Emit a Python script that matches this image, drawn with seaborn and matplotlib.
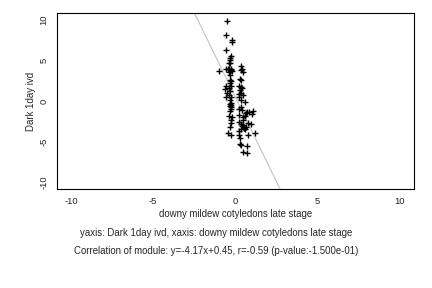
import matplotlib
matplotlib.use("Agg")
import matplotlib.pyplot as plt
import pandas as pd
import seaborn as sns

# points (x: downy mildew cotyledons late stage, y: Dark 1day ivd)
x_vals = [-0.52, -0.58, -0.20, -0.23, -0.56, -0.29, -0.31, -0.35, -0.39, -0.33,
          -0.98, -0.58, -0.45, -0.40, -0.30, -0.25, -0.20, -0.38, -0.35, -0.33,
          -0.29, -0.33, -0.30, -0.58, -0.64, -0.42, -0.33, -0.54, -0.42, -0.58,
          -0.30, -0.36, -0.28, -0.36, -0.30, -0.28, -0.36, -0.28, -0.40, -0.28,
          -0.28, -0.36, -0.46, -0.28, -0.33, -0.22,
          0.35, 0.41, 0.31, 0.44, 0.27, 0.31, 0.23, 0.35, 0.39, 0.27,
          0.31, 0.19, 0.47, 0.23, 0.31, 0.56, 0.31, 0.23, 0.39, 0.72,
          0.64, 0.84, 1.08, 0.98, 0.23, 0.43, 0.19, 0.31, 0.78, 0.92,
          0.47, 0.64, 0.35, 0.58, 0.19, 0.23, 0.27, 0.78, 1.17, 0.27,
          0.35, 0.68, 0.48, 0.72, 0.40, 0.50, 0.55, 0.45, 0.60]
y_vals = [9.9, 8.1, 7.5, 7.3, 6.3, 5.5, 5.3, 5.0, 4.65, 4.7,
          3.7, 3.95, 4.0, 3.9, 3.8, 3.95, 3.7, 3.6, 3.2, 2.6,
          2.4, 2.2, 1.9, 1.85, 1.45, 1.6, 1.2, 0.95, 0.75, 0.45,
          0.5, 0.1, -0.2, -0.4, -0.5, -0.7, -1.3, -1.0, -1.9, -2.3,
          -2.75, -3.2, -3.9, -4.15, -0.6, -2.0,
          4.3, 4.0, 3.8, 3.6, 2.75, 2.6, 1.85, 1.7, 1.55, 1.35,
          0.95, 0.8, 0.75, 0.5, 0.1, -0.1, -0.7, -1.0, -1.1, -1.4,
          -1.5, -1.4, -1.2, -1.65, -1.7, -2.0, -2.6, -2.8, -2.7, -2.8,
          -3.0, -3.2, -3.4, -3.45, -3.7, -4.2, -4.6, -4.2, -3.9, -5.3,
          -5.45, -5.6, -6.25, -6.45, -3.1, -3.3, -3.35, -2.4, -1.8]
slope, intercept = -4.17, 0.45
ticks = [-10, -5, 0, 5, 10]

x_name = "downy mildew cotyledons late stage"
y_name = "Dark 1day ivd"
caption1 = f"yaxis: {y_name}, xaxis: {x_name}"
caption2 = "Correlation of module: y=-4.17x+0.45, r=-0.59 (p-value:-1.500e-01)"

sns.set_theme(style="white", rc={"axes.unicode_minus": False})
plt.rcParams["font.family"] = ["Liberation Sans", "DejaVu Sans"]

df = pd.DataFrame({"x": x_vals, "y": y_vals})

fig = plt.figure(figsize=(4.32, 2.88), dpi=100)
ax = fig.add_axes([0.132, 0.344, 0.826, 0.611])

ax.axline((0, intercept), slope=slope, color="#c8c8c8", lw=0.9, zorder=1)
sns.scatterplot(data=df, x="x", y="y", marker="+", color="black", s=14,
                linewidth=1.0, ax=ax, zorder=2)

ax.set_xlim(-10.85, 10.85)
ax.set_ylim(-10.85, 10.85)
ax.set_xticks(ticks)
ax.set_yticks(ticks)
ax.tick_params(axis="both", direction="out", length=4, width=0.7,
               labelsize=6.8, color="black", pad=2)
plt.setp(ax.get_yticklabels(), rotation=90, va="center")
for s in ax.spines.values():
    s.set_color("black")
    s.set_linewidth(0.8)

ax.set_xlabel(x_name, fontsize=6.9, labelpad=2)
ax.set_ylabel(y_name, fontsize=6.9, labelpad=3)

fig.text(0.5, 0.19, caption1, ha="center", va="center", fontsize=6.9)
fig.text(0.5, 0.13, caption2, ha="center", va="center", fontsize=6.9)

fig.savefig("out.png", dpi=100)
plt.close(fig)
